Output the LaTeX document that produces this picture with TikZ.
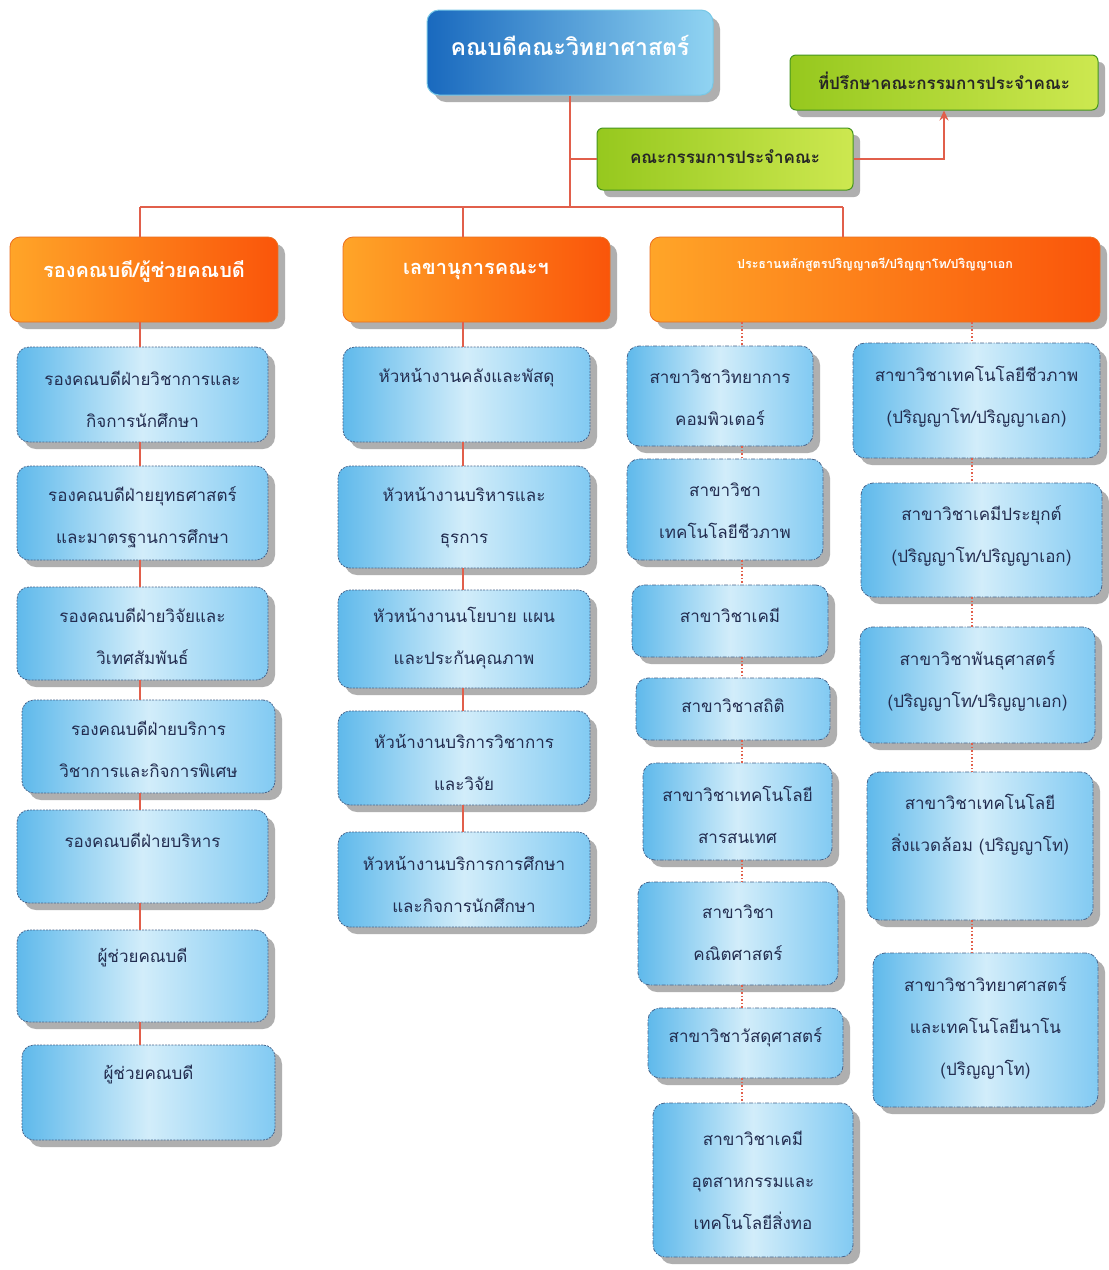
\documentclass[tikz,border=0pt]{standalone}
\usepackage{fontspec}
\newfontfamily\thaifont[Script=Thai]{Loma}
\usetikzlibrary{shadows,fit,arrows.meta,calc}
\definecolor{blA}{RGB}{95,185,235}
\definecolor{blB}{RGB}{210,237,250}
\definecolor{blC}{RGB}{130,202,242}
\definecolor{blLine}{RGB}{70,100,140}
\definecolor{navyText}{RGB}{35,45,80}
\definecolor{orA}{RGB}{255,165,40}
\definecolor{orB}{RGB}{250,85,10}
\definecolor{orLine}{RGB}{235,110,30}
\definecolor{grA}{RGB}{150,200,30}
\definecolor{grB}{RGB}{205,232,80}
\definecolor{grLine}{RGB}{70,150,30}
\definecolor{dnA}{RGB}{25,105,190}
\definecolor{dnB}{RGB}{145,212,242}
\definecolor{dnLine}{RGB}{120,200,230}
\definecolor{lineRed}{RGB}{225,95,75}
\definecolor{shadowGray}{RGB}{175,175,175}
\tikzset{
  shad/.style={drop shadow={shadow xshift=7pt, shadow yshift=-7pt, fill=shadowGray, opacity=1}},
  bluebox/.style={rounded corners=12pt, inner sep=0pt, draw=blLine, line width=0.8pt,
    dash pattern=on 2pt off 1.2pt, left color=blA, right color=blC, middle color=blB, shad},
  rightbox/.style={bluebox, dash pattern=on 4pt off 1.5pt on 1pt off 1.5pt},
  headbox/.style={rounded corners=10pt, inner sep=0pt, draw=orLine, line width=0.8pt,
    left color=orA, right color=orB, shad},
  greenbox/.style={rounded corners=6pt, inner sep=0pt, draw=grLine, line width=1pt,
    left color=grA, right color=grB, shad},
  deanbox/.style={rounded corners=12pt, inner sep=0pt, draw=dnLine, line width=1pt,
    left color=dnA, right color=dnB, shad},
  btext/.style={font=\thaifont\fontsize{17}{42}\selectfont, text=navyText, align=center, inner sep=0pt},
  htext/.style={font=\thaifont\bfseries\fontsize{20}{24}\selectfont, text=white, align=center, inner sep=0pt},
  gtext/.style={font=\thaifont\bfseries\fontsize{17}{20}\selectfont, text=black!85, align=center, inner sep=0pt},
  conn/.style={draw=lineRed, line width=2pt},
  dconn/.style={draw=lineRed, line width=1.5pt, dotted},
}
\newcommand\mkbox[8]{%
  \node[#1, fit={(#3,#4) (#5,#6)}] (#2) {};
  \node[btext] (#2-t) at ({(#3+#5)/2},#7) {#8};
}
\begin{document}
\begin{tikzpicture}[x=1pt,y=-1pt]
\fill[white] (0,0) rectangle (1109,1270);
\useasboundingbox (0,0) rectangle (1109,1270);

% top level
\node[deanbox, fit={(427,10) (713,95)}] (dean) {};
\node[htext, font=\thaifont\bfseries\fontsize{23}{26}\selectfont] (dean-t) at (570,45) {คณบดีคณะวิทยาศาสตร์};
\node[greenbox, fit={(790,55) (1098,110)}] (adv) {};
\node[gtext] (adv-t) at (944,81) {ที่ปรึกษาคณะกรรมการประจำคณะ};
\node[greenbox, fit={(597,128) (853,190)}] (comm) {};
\node[gtext] (comm-t) at (725,157) {คณะกรรมการประจำคณะ};

% headers
\node[headbox, fit={(10,237) (278,322)}] (h1) {};
\node[htext] (h1-t) at (144,271) {รองคณบดี/ผู้ช่วยคณบดี};
\node[headbox, fit={(343,237) (610,322)}] (h2) {};
\node[htext] (h2-t) at (476,271) {เลขานุการคณะฯ};
\node[headbox, fit={(650,237) (1100,322)}] (h3) {};
\node[htext, font=\thaifont\bfseries\fontsize{12.5}{15}\selectfont] (h3-t) at (875,265) {ประธานหลักสูตรปริญญาตรี/ปริญญาโท/ปริญญาเอก};

% left column
\mkbox{bluebox}{l1}{17}{347}{268}{442}{399}{รองคณบดีฝ่ายวิชาการและ\\กิจการนักศึกษา}
\mkbox{bluebox}{l2}{17}{466}{268}{560}{517}{รองคณบดีฝ่ายยุทธศาสตร์\\และมาตรฐานการศึกษา}
\mkbox{bluebox}{l3}{17}{587}{268}{680}{636}{รองคณบดีฝ่ายวิจัยและ\\วิเทศสัมพันธ์}
\mkbox{bluebox}{l4}{22}{700}{275}{793}{749}{รองคณบดีฝ่ายบริการ\\วิชาการและกิจการพิเศษ}
\mkbox{bluebox}{l5}{17}{810}{268}{903}{840}{รองคณบดีฝ่ายบริหาร}
\mkbox{bluebox}{l6}{17}{930}{268}{1022}{958}{ผู้ช่วยคณบดี}
\mkbox{bluebox}{l7}{22}{1045}{275}{1140}{1075}{ผู้ช่วยคณบดี}

% middle column
\mkbox{bluebox}{m1}{343}{347}{590}{442}{378}{หัวหน้างานคลังและพัสดุ}
\mkbox{bluebox}{m2}{338}{466}{590}{568}{518}{หัวหน้างานบริหารและ\\ธุรการ}
\mkbox{bluebox}{m3}{338}{590}{590}{688}{638}{หัวหน้างานนโยบาย แผน\\และประกันคุณภาพ}
\mkbox{bluebox}{m4}{338}{711}{590}{805}{762}{หัวน้างานบริการวิชาการ\\และวิจัย}
\mkbox{bluebox}{m5}{338}{832}{590}{927}{884}{หัวหน้างานบริการการศึกษา\\และกิจการนักศึกษา}

% right column A
\mkbox{rightbox}{a1}{627}{346}{813}{446}{398}{สาขาวิชาวิทยาการ\\คอมพิวเตอร์}
\mkbox{rightbox}{a2}{627}{459}{823}{560}{511}{สาขาวิชา\\เทคโนโลยีชีวภาพ}
\mkbox{rightbox}{a3}{632}{585}{828}{657}{615}{สาขาวิชาเคมี}
\mkbox{rightbox}{a4}{636}{678}{830}{740}{706}{สาขาวิชาสถิติ}
\mkbox{rightbox}{a5}{643}{763}{832}{860}{815}{สาขาวิชาเทคโนโลยี\\สารสนเทศ}
\mkbox{rightbox}{a6}{638}{882}{838}{985}{933}{สาขาวิชา\\คณิตศาสตร์}
\mkbox{rightbox}{a7}{648}{1008}{843}{1078}{1037}{สาขาวิชาวัสดุศาสตร์}
\mkbox{rightbox}{a8}{653}{1103}{853}{1257}{1180}{สาขาวิชาเคมี\\อุตสาหกรรมและ\\เทคโนโลยีสิ่งทอ}

% right column B
\mkbox{rightbox}{b1}{853}{343}{1100}{458}{397}{สาขาวิชาเทคโนโลยีชีวภาพ\\(ปริญญาโท/ปริญญาเอก)}
\mkbox{rightbox}{b2}{861}{483}{1102}{597}{536}{สาขาวิชาเคมีประยุกต์\\(ปริญญาโท/ปริญญาเอก)}
\mkbox{rightbox}{b3}{860}{627}{1095}{743}{681}{สาขาวิชาพันธุศาสตร์\\(ปริญญาโท/ปริญญาเอก)}
\mkbox{rightbox}{b4}{867}{772}{1093}{920}{825}{สาขาวิชาเทคโนโลยี\\สิ่งแวดล้อม (ปริญญาโท)}
\mkbox{rightbox}{b5}{873}{953}{1098}{1107}{1028}{สาขาวิชาวิทยาศาสตร์\\และเทคโนโลยีนาโน\\(ปริญญาโท)}

% coordinates
\coordinate (busL) at (140,207);
\coordinate (busC) at (570,207);
\coordinate (busM) at (463,207);
\coordinate (busR) at (843,207);
\coordinate (colL) at (140,0);
\coordinate (colM) at (463,0);
\coordinate (colA) at (742,0);
\coordinate (colB) at (972,0);

% top connectors
\draw[conn] (dean.south) -- (busC);
\draw[conn] (dean.south |- comm.west) -- (comm.west);
\draw[conn, -{Stealth[length=10pt,width=9pt]}] (comm.east) -| (adv.south);
\draw[conn] (busL) -- (busR);
\draw[conn] (busL) -- (busL |- h1.north);
\draw[conn] (busM) -- (busM |- h2.north);
\draw[conn] (busR) -- (busR |- h3.north);

% left column connectors
\draw[conn] (h1.south -| colL) -- (l1.north -| colL);
\draw[conn] (l1.south -| colL) -- (l2.north -| colL);
\draw[conn] (l2.south -| colL) -- (l3.north -| colL);
\draw[conn] (l3.south -| colL) -- (l4.north -| colL);
\draw[conn] (l4.south -| colL) -- (l5.north -| colL);
\draw[conn] (l5.south -| colL) -- (l6.north -| colL);
\draw[conn] (l6.south -| colL) -- (l7.north -| colL);

% middle column connectors
\draw[conn] (h2.south -| colM) -- (m1.north -| colM);
\draw[conn] (m1.south -| colM) -- (m2.north -| colM);
\draw[conn] (m2.south -| colM) -- (m3.north -| colM);
\draw[conn] (m3.south -| colM) -- (m4.north -| colM);
\draw[conn] (m4.south -| colM) -- (m5.north -| colM);

% right column A connectors
\draw[dconn] (h3.south -| colA) -- (a1.north -| colA);
\draw[dconn] (a1.south -| colA) -- (a2.north -| colA);
\draw[dconn] (a2.south -| colA) -- (a3.north -| colA);
\draw[dconn] (a3.south -| colA) -- (a4.north -| colA);
\draw[dconn] (a4.south -| colA) -- (a5.north -| colA);
\draw[dconn] (a5.south -| colA) -- (a6.north -| colA);
\draw[dconn] (a6.south -| colA) -- (a7.north -| colA);
\draw[dconn] (a7.south -| colA) -- (a8.north -| colA);

% right column B connectors
\draw[dconn] (h3.south -| colB) -- (b1.north -| colB);
\draw[dconn] (b1.south -| colB) -- (b2.north -| colB);
\draw[dconn] (b2.south -| colB) -- (b3.north -| colB);
\draw[dconn] (b3.south -| colB) -- (b4.north -| colB);
\draw[dconn] (b4.south -| colB) -- (b5.north -| colB);
\end{tikzpicture}
\end{document}
